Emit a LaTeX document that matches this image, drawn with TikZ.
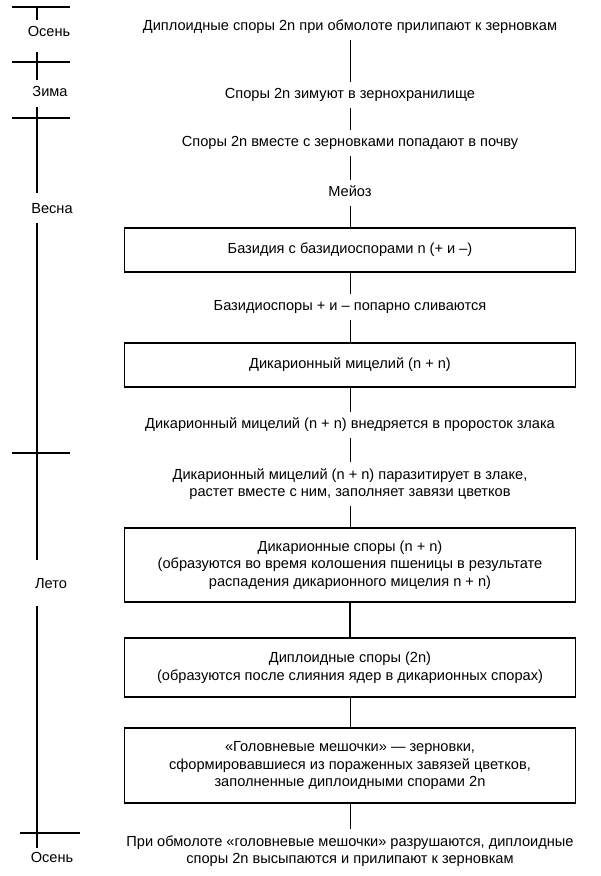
\documentclass[tikz,border=0pt]{standalone}
\usepackage{fontspec}
\setmainfont{Liberation Sans}
\newcommand{\fsz}{\fontsize{14.6}{17.5}\selectfont}
\begin{document}
\begin{tikzpicture}[x=1pt,y=1pt,
  lbl/.style={font=\fsz, inner xsep=0pt, inner ysep=6pt, text height=10pt, text depth=3pt},
  lblm/.style={font=\fsz, inner xsep=0pt, inner ysep=6pt, align=center},
  season/.style={font=\fsz, inner sep=0pt, text height=10pt, text depth=3pt},
  stagebox/.style={draw, line width=1.3pt, minimum width=451pt, align=center, inner sep=0pt, font=\fsz},
  conn/.style={line width=1pt},
  tline/.style={line width=1.6pt}]
\useasboundingbox (0,0) rectangle (601,-876);

% central column
\node[lbl] (t1) at (350,-27) {Диплоидные споры 2n при обмолоте прилипают к зерновкам};
\node[lbl] (t2) at (350,-95) {Споры 2n зимуют в зернохранилище};
\node[lbl] (t3) at (350,-143) {Споры 2n вместе с зерновками попадают в почву};
\node[lbl] (t4) at (350,-193) {Мейоз};
\node[stagebox, minimum height=44pt] (b1) at (350,-250) {Базидия с базидиоспорами n (+ и –)};
\node[lbl] (t5) at (350,-307) {Базидиоспоры + и – попарно сливаются};
\node[stagebox, minimum height=44pt] (b2) at (350,-365) {Дикарионный мицелий (n + n)};
\node[lbl] (t6) at (350,-425) {Дикарионный мицелий (n + n) внедряется в проросток злака};
\node[lblm] (t7) at (350,-484) {Дикарионный мицелий (n + n) паразитирует в злаке,\\растет вместе с ним, заполняет завязи цветков};
\node[stagebox, minimum height=74pt] (b3) at (350,-565) {Дикарионные споры (n + n)\\(образуются во время колошения пшеницы в результате\\распадения дикарионного мицелия n + n)};
\node[stagebox, minimum height=59pt] (b4) at (350,-667.5) {Диплоидные споры (2n)\\(образуются после слияния ядер в дикарионных спорах)};
\node[stagebox, minimum height=75pt] (b5) at (350,-765.5) {«Головневые мешочки» — зерновки,\\сформировавшиеся из пораженных завязей цветков,\\заполненные диплоидными спорами 2n};
\node[lblm] (t8) at (350,-851) {При обмолоте «головневые мешочки» разрушаются, диплоидные\\споры 2n высыпаются и прилипают к зерновкам};

\draw[conn] (t1.south) -- (t2.north);
\draw[conn] (t2.south) -- (t3.north);
\draw[conn] (t3.south) -- (t4.north);
\draw[conn] (t4.south) -- (b1.north);
\draw[conn] (b1.south) -- (t5.north);
\draw[conn] (t5.south) -- (b2.north);
\draw[conn] (b2.south) -- (t6.north);
\draw[conn] (t6.south) -- (t7.north);
\draw[conn] (t7.south) -- (b3.north);
\draw[conn, line width=1.4pt] (b3.south) -- (b4.north);
\draw[conn] (b4.south) -- (b5.north);
\draw[conn] (b5.south) -- (t8.north);

% seasons timeline
\node[season] (s1) at (49,-33) {Осень};
\node[season] (s2) at (50,-93) {Зима};
\node[season] (s3) at (52,-210) {Весна};
\node[season] (s4) at (51,-585) {Лето};
\node[season] (s5) at (52,-859) {Осень};

\coordinate (v1a) at (37,-7);   \coordinate (v1b) at (37,-20);
\coordinate (v2a) at (37,-52);  \coordinate (v2b) at (37,-80);
\coordinate (v3a) at (37,-107); \coordinate (v3b) at (37,-193);
\coordinate (v4a) at (37,-223); \coordinate (v4b) at (37,-560);
\coordinate (v5a) at (37,-606); \coordinate (v5b) at (37,-848);

\coordinate (k1a) at (12,-7);   \coordinate (k1b) at (70,-7);
\coordinate (k2a) at (12,-62);  \coordinate (k2b) at (70,-62);
\coordinate (k3a) at (12,-118); \coordinate (k3b) at (70,-118);
\coordinate (k4a) at (12,-453); \coordinate (k4b) at (70,-453);
\coordinate (k5a) at (20,-833); \coordinate (k5b) at (80,-833);

\foreach \i in {1,...,5} {
  \draw[tline] (v\i a) -- (v\i b);
  \draw[tline] (k\i a) -- (k\i b);
}
\end{tikzpicture}
\end{document}
